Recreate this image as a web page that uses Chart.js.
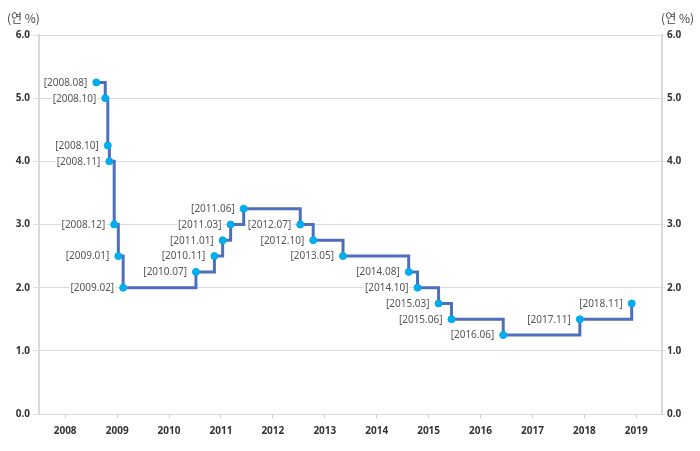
<!DOCTYPE html>
<html>
<head>
<meta charset="utf-8">
<script src="https://cdn.jsdelivr.net/npm/chart.js@4.4.1/dist/chart.umd.min.js"></script>
<style>
html,body{margin:0;padding:0;background:#fff;}
#wrap{position:relative;width:700px;height:451px;}
canvas{display:block;}
</style>
</head>
<body>
<div id="wrap"><canvas id="c" width="700" height="451"></canvas></div>
<script>
// Korea base rate change dates
const dates = ['2008-08-07','2008-10-09','2008-10-27','2008-11-07','2008-12-11','2009-01-09','2009-02-12',
  '2010-07-09','2010-11-16','2011-01-13','2011-03-10','2011-06-10','2012-07-12','2012-10-11','2013-05-09',
  '2014-08-14','2014-10-15','2015-03-12','2015-06-11','2016-06-09','2017-11-30','2018-11-30'];
const rates = [5.25,5.00,4.25,4.00,3.00,2.50,2.00,2.25,2.50,2.75,3.00,3.25,3.00,2.75,2.50,2.25,2.00,1.75,1.50,1.25,1.50,1.75];
const pointLabels = ['[2008.08]','[2008.10]','[2008.10]','[2008.11]','[2008.12]','[2009.01]','[2009.02]',
  '[2010.07]','[2010.11]','[2011.01]','[2011.03]','[2011.06]','[2012.07]','[2012.10]','[2013.05]',
  '[2014.08]','[2014.10]','[2015.03]','[2015.06]','[2016.06]','[2017.11]','[2018.11]'];
const yearTicks = [2008,2009,2010,2011,2012,2013,2014,2015,2016,2017,2018,2019];
const yTicks = [0,1,2,3,4,5,6];
const unitLabel = '(연 %)';

const LABEL_FONT = '10px "Noto Sans", "DejaVu Sans", sans-serif';

const labelPlugin = {
  id: 'pointLabels',
  beforeDatasetsDraw(chart) {
    const ctx = chart.ctx;
    const meta = chart.getDatasetMeta(0);
    ctx.save();
    ctx.font = LABEL_FONT;
    ctx.fillStyle = '#ffffff';
    meta.data.forEach((el, i) => {
      const w = ctx.measureText(pointLabels[i]).width;
      ctx.fillRect(el.x - 9 - w - 1, el.y - 7, w + 2, 14);
    });
    ctx.restore();
  },
  afterDatasetsDraw(chart) {
    const ctx = chart.ctx;
    const meta = chart.getDatasetMeta(0);
    ctx.save();
    ctx.font = LABEL_FONT;
    ctx.fillStyle = '#555555';
    ctx.textAlign = 'right';
    ctx.textBaseline = 'middle';
    meta.data.forEach((el, i) => {
      ctx.fillText(pointLabels[i], el.x - 9, el.y + 0.5);
    });
    ctx.restore();
  },
  afterDraw(chart) {
    const ctx = chart.ctx;
    ctx.save();
    ctx.font = '12px "Noto Sans CJK KR", sans-serif';
    ctx.fillStyle = '#444444';
    ctx.textBaseline = 'middle';
    ctx.textAlign = 'left';
    ctx.fillText(unitLabel, 7, 18);
    ctx.textAlign = 'right';
    ctx.fillText(unitLabel, 694, 18);
    ctx.restore();
  }
};

const tickFont = {family: '"Noto Sans", "DejaVu Sans", sans-serif', size: 10, weight: 'bold'};

new Chart(document.getElementById('c'), {
  type: 'line',
  data: {
    datasets: [{
      data: dates.map((d, i) => ({x: Date.parse(d + 'T00:00:00Z'), y: rates[i]})),
      stepped: true,
      borderColor: '#4e6fbd',
      borderWidth: 3,
      pointRadius: 3.5,
      pointBorderWidth: 1,
      pointBackgroundColor: '#00aeef',
      pointBorderColor: '#00aeef',
      fill: false
    }]
  },
  options: {
    responsive: false,
    animation: false,
    devicePixelRatio: 1,
    layout: {padding: {top: 35, left: 0, right: 0, bottom: 0}},
    plugins: {legend: {display: false}, tooltip: {enabled: false}},
    scales: {
      x: {
        type: 'linear',
        min: Date.UTC(2007, 6, 1),
        max: Date.UTC(2019, 6, 1),
        afterBuildTicks: (s) => { s.ticks = yearTicks.map(y => ({value: Date.UTC(y, 0, 1)})); },
        afterFit: (s) => { s.height = 37; },
        ticks: {
          callback: (v) => String(new Date(v).getUTCFullYear()),
          font: tickFont, color: '#333333', padding: 7, maxRotation: 0, autoSkip: false
        },
        grid: {drawOnChartArea: false, tickLength: 4, color: '#cccccc'},
        border: {display: true, color: '#d9d9d9'}
      },
      y: {
        position: 'left',
        min: 0, max: 6,
        afterBuildTicks: (s) => { s.ticks = yTicks.map(v => ({value: v})); },
        afterFit: (s) => { s.width = 39; },
        ticks: {callback: (v) => v.toFixed(1), font: tickFont, color: '#333333', padding: 3},
        grid: {color: '#dcdcdc', tickLength: 6},
        border: {display: true, color: '#d9d9d9', width: 2}
      },
      y1: {
        position: 'right',
        min: 0, max: 6,
        afterBuildTicks: (s) => { s.ticks = yTicks.map(v => ({value: v})); },
        afterFit: (s) => { s.width = 38; },
        ticks: {callback: (v) => v.toFixed(1), font: tickFont, color: '#333333', padding: 2},
        grid: {drawOnChartArea: false, color: '#dcdcdc', tickLength: 3},
        border: {display: true, color: '#d9d9d9', width: 2}
      }
    }
  },
  plugins: [labelPlugin]
});
</script>
</body>
</html>
